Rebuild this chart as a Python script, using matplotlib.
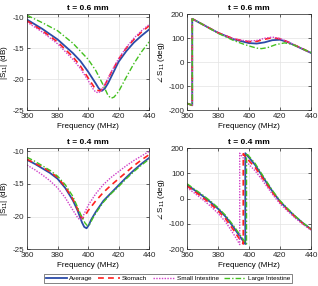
import matplotlib
matplotlib.use('Agg')
import matplotlib.pyplot as plt

# === data ===
labels = ['Average', 'Stomach', 'Small Intestine', 'Large Intestine']

# t = 0.6 mm, |S11| (dB)
f_mag06_avg = [360, 370, 380, 390, 395, 400, 405, 407, 409, 411, 413, 415, 420, 425, 430, 435, 440]
mag06_avg = [-10.4, -11.9, -13.6, -15.8, -17.1, -18.8, -20.7, -21.5, -21.9, -21.5, -20.7, -19.7, -17.2, -15.5, -14.1, -13.0, -12.0]
f_mag06_sto = [360, 370, 380, 390, 395, 400, 404, 406, 408, 410, 413, 415, 420, 425, 430, 435, 440]
mag06_sto = [-10.6, -12.2, -14.0, -16.4, -17.9, -19.8, -21.3, -21.8, -21.9, -21.4, -20.0, -19.0, -16.8, -15.0, -13.6, -12.4, -11.4]
f_mag06_si = [360, 370, 380, 390, 395, 400, 403, 405, 407, 409, 412, 415, 420, 425, 430, 435, 440]
mag06_si = [-10.8, -12.4, -14.3, -16.8, -18.3, -20.2, -21.5, -22.1, -22.2, -21.7, -20.4, -18.9, -16.7, -14.9, -13.4, -12.2, -11.2]
f_mag06_li = [360, 370, 380, 390, 400, 405, 410, 413, 415, 417, 420, 425, 430, 435, 440]
mag06_li = [-9.7, -10.9, -12.2, -14.2, -16.8, -18.6, -21.0, -22.6, -23.1, -22.9, -22.0, -19.7, -17.5, -15.6, -14.0]

# t = 0.6 mm, phase (deg)
f_ph06 = [360, 363.4, 363.4, 370, 380, 390, 395, 400, 405, 410, 415, 420, 425, 430, 435, 440]
ph06_avg = [-172, -180, 180, 157, 122, 95, 87, 79, 77, 82, 91, 93, 83, 68, 53, 38]
ph06_sto = [-172, -180, 180, 157, 122, 97, 90, 85, 86, 95, 101, 97, 84, 69, 54, 38]
ph06_si = [-172, -180, 180, 157, 122, 97, 91, 87, 90, 99, 104, 98, 85, 69, 54, 38]
f_ph06_li = [360, 363.4, 363.4, 370, 380, 390, 395, 400, 405, 408, 412, 417, 423, 428, 432, 436, 440]
ph06_li = [-172, -180, 180, 157, 120, 90, 78, 67, 58, 56, 60, 72, 80, 73, 63, 51, 39]

# t = 0.4 mm, |S11| (dB)
f_mag04_avg = [360, 365, 370, 375, 380, 385, 390, 393, 396, 397.5, 399, 400.5, 402, 405, 410, 415, 420, 425, 430, 435, 440]
mag04_avg = [-11.3, -11.9, -12.6, -13.3, -14.2, -15.6, -17.5, -19.0, -20.9, -21.6, -21.8, -21.3, -20.5, -19.3, -17.6, -16.4, -15.2, -14.0, -12.9, -11.9, -11.0]
f_mag04_sto = [360, 365, 370, 375, 380, 385, 390, 393, 395, 396.3, 398, 400, 405, 410, 415, 420, 425, 430, 435, 440]
mag04_sto = [-11.2, -11.8, -12.4, -13.1, -14.0, -15.4, -17.3, -18.8, -19.9, -20.3, -19.9, -19.1, -17.6, -16.3, -15.2, -14.2, -13.2, -12.2, -11.3, -10.5]
f_mag04_si = [360, 365, 370, 375, 380, 385, 390, 393, 394.5, 396, 398, 400, 405, 410, 415, 420, 425, 430, 435, 440]
mag04_si = [-12.1, -12.8, -13.6, -14.5, -15.6, -17.1, -19.0, -20.1, -20.5, -20.3, -19.3, -18.3, -16.5, -15.1, -14.0, -13.1, -12.2, -11.4, -10.7, -10.0]
f_mag04_li = [360, 365, 370, 375, 380, 385, 390, 395, 398, 399.5, 401, 403, 405, 410, 415, 420, 425, 430, 435, 440]
mag04_li = [-10.9, -11.5, -12.2, -12.9, -13.8, -15.1, -16.9, -19.6, -21.0, -21.4, -21.2, -20.3, -19.5, -17.8, -16.5, -15.4, -14.2, -13.1, -12.1, -11.2]

# t = 0.4 mm, phase (deg)
f_ph04_avg = [360, 365, 370, 375, 380, 385, 390, 393, 395, 397.6, 397.6, 400, 404, 408, 412, 416, 420, 425, 430, 435, 440]
ph04_avg = [55, 33, 11, -13, -40, -72, -113, -140, -157, -180, 180, 163, 133, 95, 57, 21, -11, -43, -72, -98, -121]
f_ph04_sto = [360, 365, 370, 375, 380, 385, 390, 393, 396.3, 396.3, 400, 404, 408, 412, 416, 420, 425, 430, 435, 440]
ph04_sto = [50, 28, 5, -20, -48, -81, -124, -152, -180, 178, 150, 123, 88, 52, 17, -14, -45, -74, -100, -122]
f_ph04_si = [360, 365, 370, 375, 380, 385, 390, 392, 394, 394, 397, 400, 404, 408, 412, 416, 420, 425, 430, 435, 440]
ph04_si = [44, 21, -3, -29, -58, -93, -140, -160, -182, 180, 155, 135, 110, 78, 44, 10, -20, -50, -78, -103, -125]
f_ph04_li = [360, 365, 370, 375, 380, 385, 390, 393, 395, 398.4, 398.4, 400, 404, 408, 412, 416, 420, 425, 430, 435, 440]
ph04_li = [59, 37, 15, -9, -36, -67, -107, -133, -150, -180, 180, 168, 139, 100, 62, 25, -8, -40, -70, -97, -120]

# === style ===
plt.rcParams['font.family'] = ['Liberation Sans', 'DejaVu Sans']
plt.rcParams['mathtext.fontset'] = 'custom'
plt.rcParams['mathtext.rm'] = 'Liberation Sans'
plt.rcParams['mathtext.it'] = 'Liberation Sans'
plt.rcParams['axes.unicode_minus'] = False

colors = ['#2b4ba8', '#ff2020', '#d040c8', '#44c020']
styles = [dict(ls='-', lw=1.3),
          dict(ls=(0, (3.5, 2.5)), lw=1.2),
          dict(ls=(0, (1, 1)), lw=1.0),
          dict(ls=(0, (4, 1.5, 1, 1.5)), lw=1.0)]

fig = plt.figure(figsize=(3.18, 2.86), dpi=100)
ax_tl = fig.add_axes([0.085, 0.615, 0.384, 0.336])
ax_tr = fig.add_axes([0.588, 0.615, 0.390, 0.336])
ax_bl = fig.add_axes([0.085, 0.129, 0.384, 0.353])
ax_br = fig.add_axes([0.588, 0.129, 0.390, 0.353])

panels = [
    (ax_tl, [(f_mag06_avg, mag06_avg), (f_mag06_sto, mag06_sto), (f_mag06_si, mag06_si), (f_mag06_li, mag06_li)]),
    (ax_tr, [(f_ph06, ph06_avg), (f_ph06, ph06_sto), (f_ph06, ph06_si), (f_ph06_li, ph06_li)]),
    (ax_bl, [(f_mag04_avg, mag04_avg), (f_mag04_sto, mag04_sto), (f_mag04_si, mag04_si), (f_mag04_li, mag04_li)]),
    (ax_br, [(f_ph04_avg, ph04_avg), (f_ph04_sto, ph04_sto), (f_ph04_si, ph04_si), (f_ph04_li, ph04_li)]),
]

handles = []
for ax, series in panels:
    for i, (f, v) in enumerate(series):
        h, = ax.plot(f, v, color=colors[i], label=labels[i], **styles[i])
        if ax is ax_tl:
            handles.append(h)

for ax in (ax_tl, ax_bl):
    ax.set_ylim(-25, -9.5)
    ax.set_yticks([-25, -20, -15, -10])
    ax.set_ylabel('|S$_{11}$| (dB)', fontsize=5.8, labelpad=2)
for ax in (ax_tr, ax_br):
    ax.set_ylim(-200, 200)
    ax.set_yticks([-200, -100, 0, 100, 200])
    ax.set_ylabel(r'$\angle$ S$_{11}$ (deg)', fontsize=5.8, labelpad=1)

for ax in (ax_tl, ax_tr, ax_bl, ax_br):
    ax.set_xlim(360, 440)
    ax.set_xticks([360, 380, 400, 420, 440])
    ax.set_xlabel('Frequency (MHz)', fontsize=5.8, labelpad=2)
    ax.tick_params(direction='in', length=2, width=0.5, labelsize=5.8, pad=2,
                   colors='#262626', top=True, right=True)
    ax.grid(True, color='#e3e3e3', lw=0.5)
    ax.set_axisbelow(True)
    for s in ax.spines.values():
        s.set_linewidth(0.5)
        s.set_color('#262626')

ax_tl.set_title('t = 0.6 mm', fontsize=6, fontweight='bold', pad=3)
ax_tr.set_title('t = 0.6 mm', fontsize=6, fontweight='bold', pad=3)
ax_bl.set_title('t = 0.4 mm', fontsize=6, fontweight='bold', pad=3)
ax_br.set_title('t = 0.4 mm', fontsize=6, fontweight='bold', pad=3)

leg = fig.legend(handles=handles, labels=labels, loc='center', ncol=4,
                 bbox_to_anchor=(0.528, 0.026), fontsize=4.6, frameon=True,
                 fancybox=False, edgecolor='#262626', handlelength=3.4,
                 handletextpad=0.3, columnspacing=0.9, borderpad=0.3,
                 borderaxespad=0)
leg.get_frame().set_linewidth(0.5)

fig.savefig('out.png', dpi=100)
